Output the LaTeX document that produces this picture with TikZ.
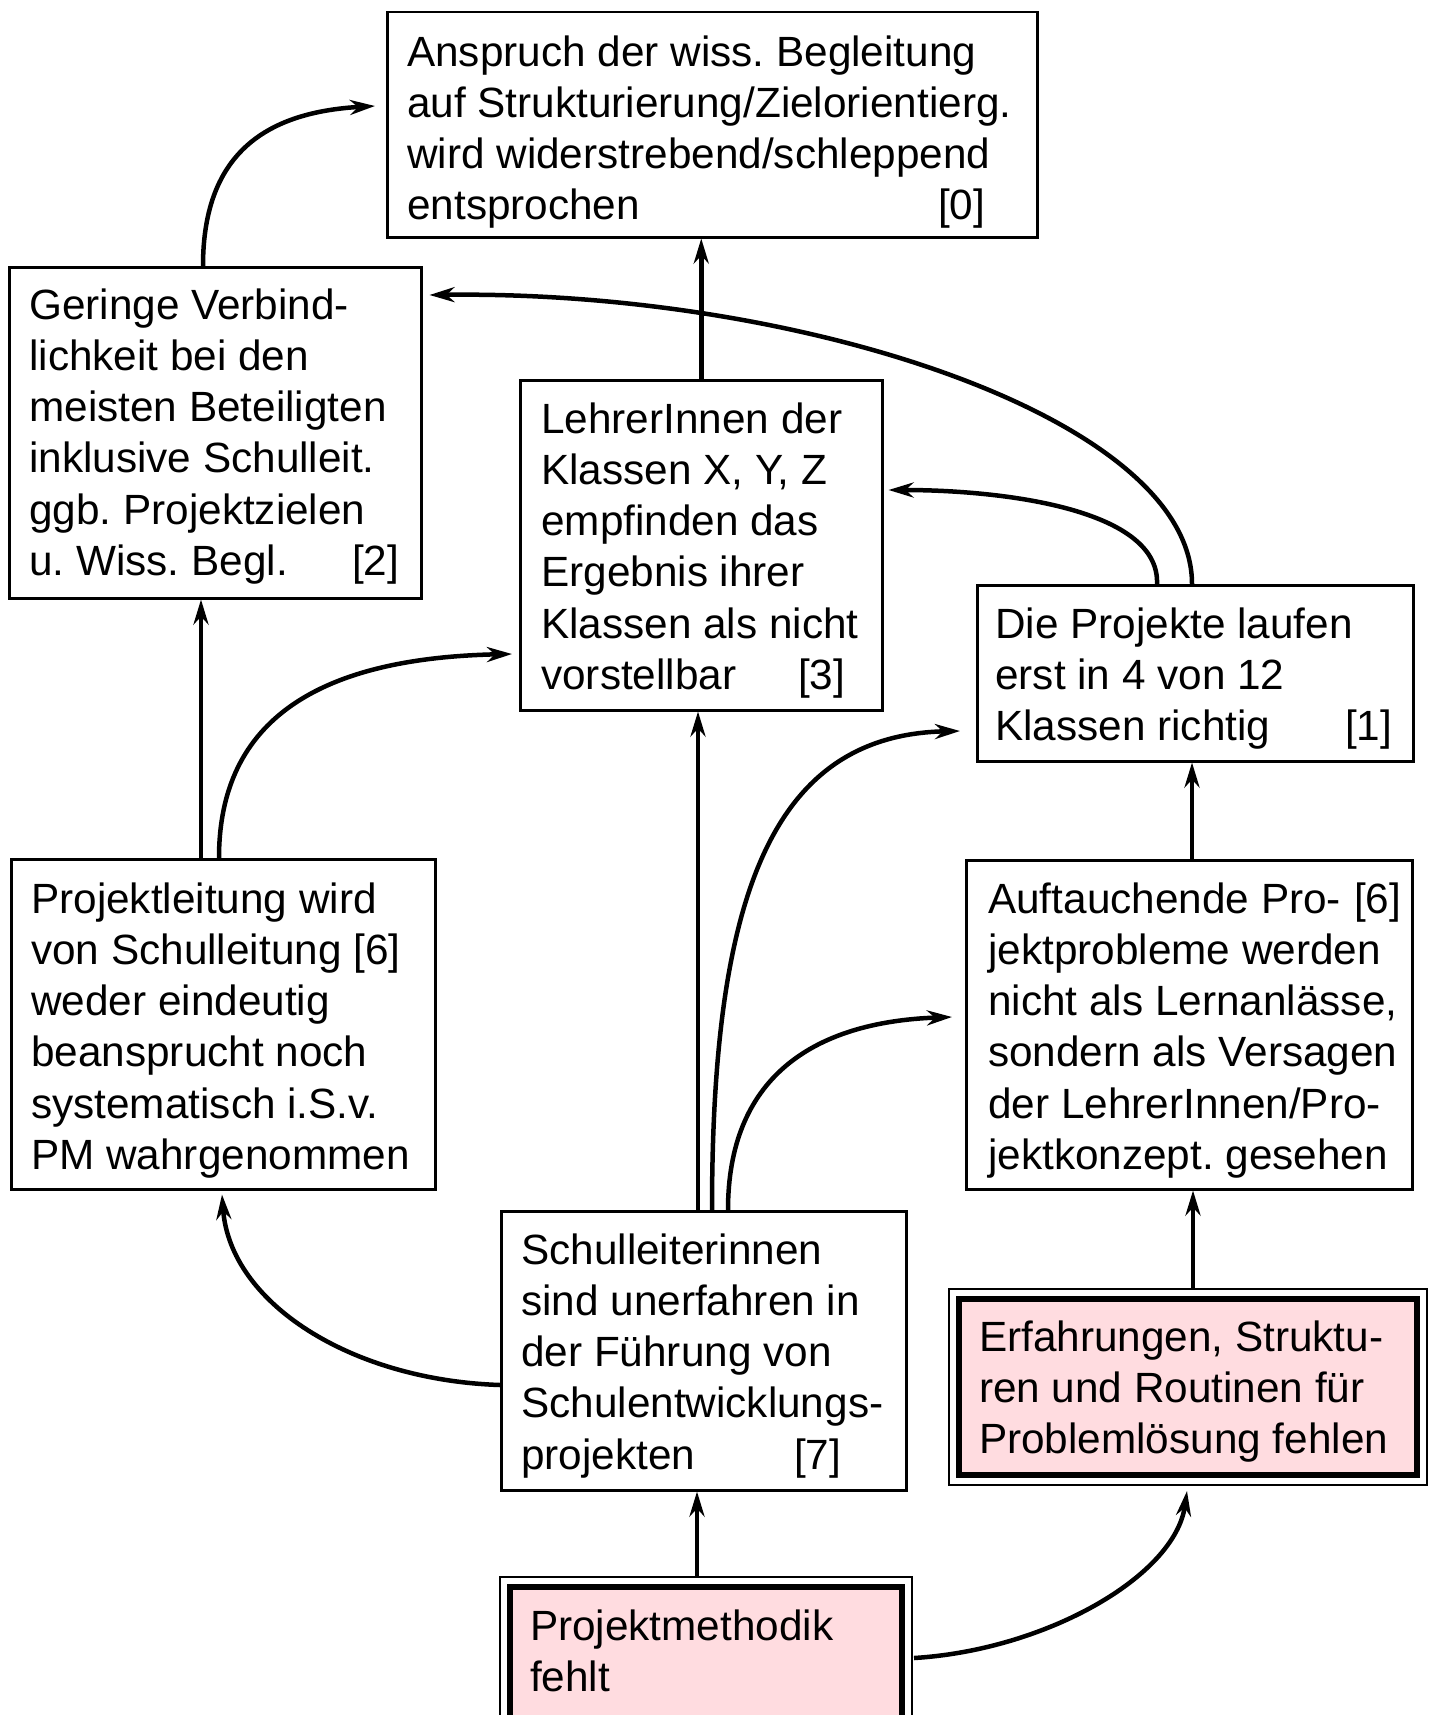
\documentclass[tikz,border=0pt]{standalone}
\usepackage{fontspec}
\setmainfont{Liberation Sans}
\usetikzlibrary{arrows.meta,calc}
\definecolor{boxpink}{RGB}{255,220,224}

% box content: width, height, left padding, first baseline offset, text
\newcommand\cbox[5]{\parbox[c][#2][t]{#1}{\fontsize{42.3pt}{51.2pt}\selectfont
  \frenchspacing\hyphenpenalty=10000 \exhyphenpenalty=10000
  \leftskip=#3\relax\rule{0pt}{#4}\ignorespaces#5}}

\tikzset{
  box/.style={draw, line width=2.5pt, fill=white, inner sep=0pt, anchor=north west},
  keybox/.style={draw, line width=6pt, fill=boxpink, inner sep=0pt, anchor=north west},
  keyframe/.style={draw, line width=2pt},
  arr/.style={line width=4.5pt, -{Stealth[length=25pt,width=15pt,inset=8pt]}}
}

\begin{document}
\begin{tikzpicture}[x=1pt, y=-1pt]
\useasboundingbox (0,0) rectangle (1431,1715);

% ---- boxes ----
\node[box] (b0) at (386,11) {\cbox{650pt}{225pt}{20pt}{54pt}{%
  Anspruch der wiss. Begleitung\\auf Strukturierung/Zielorientierg.\\wird widerstrebend/schleppend\\entsprochen\hfill[0]\hspace*{52pt}}};

\node[box] (b2) at (8,266) {\cbox{412pt}{331pt}{20pt}{52pt}{%
  Geringe Verbind-\\lichkeit bei den\\meisten Beteiligten\\inklusive Schulleit.\\ggb. Projektzielen\\u. Wiss. Begl.\hfill[2]\hspace*{22pt}}};

\node[box] (b3) at (519,379) {\cbox{362pt}{330pt}{21pt}{53pt}{%
  LehrerInnen der\\Klassen X, Y, Z\\empfinden das\\Ergebnis ihrer\\Klassen als nicht\\vorstellbar\hfill[3]\hspace*{37pt}}};

\node[box] (b1) at (976,584) {\cbox{436pt}{176pt}{18pt}{53pt}{%
  Die Projekte laufen\\erst in 4 von 12\\Klassen richtig\hfill[1]\hspace*{21pt}}};

\node[box] (pl) at (10,858) {\cbox{424pt}{330pt}{20pt}{54pt}{%
  Projektleitung wird\\von Schulleitung [6]\\weder eindeutig\\beansprucht noch\\systematisch i.S.v.\\PM wahrgenommen}};

\node[box] (b6) at (965,859) {\cbox{446pt}{329pt}{22pt}{53pt}{%
  Auftauchende Pro-\hfill[6]\hspace*{11pt}\\jektprobleme werden\\nicht als Lernanlässe,\\sondern als Versagen\\der LehrerInnen/Pro-\\jektkonzept. gesehen}};

\node[box] (b7) at (500,1210) {\cbox{405pt}{279pt}{20pt}{53pt}{%
  Schulleiterinnen\\sind unerfahren in\\der Führung von\\Schulentwicklungs-\\projekten\hfill[7]\hspace*{65pt}}};

\node[keybox] (erf) at (956,1296) {\cbox{458pt}{176pt}{20pt}{52pt}{%
  Erfahrungen, Struktu-\\ren und Routinen für\\Problemlösung fehlen}};
\draw[keyframe] ([shift={(-7pt,7pt)}]erf.north west) rectangle ([shift={(7pt,-7pt)}]erf.south east);

\node[keybox] (pm) at (507,1584) {\cbox{392pt}{200pt}{20pt}{53pt}{%
  Projektmethodik\\fehlt}};
\draw[keyframe] ([shift={(-7pt,7pt)}]pm.north west) rectangle ([shift={(7pt,-7pt)}]pm.south east);

% ---- connectors ----
\draw[arr] ($(b2.north west)+(195,0)$) .. controls +(0,-116) and +(-105,6) .. ($(b0.north west)+(-11,95)$);
\draw[arr] ($(b1.north west)+(216,0)$) .. controls +(0,-165) and +(373,-5) .. ($(b2.north east)+(7,29)$);
\draw[arr] ($(b1.north west)+(181,0)$) .. controls +(3,-75) and +(114,0) .. ($(b3.north east)+(5,111)$);
\draw[arr] (b3.north) -- (b3.north |- b0.south);
\draw[arr] ($(pl.north west)+(191,0)$) -- ($(b2.south west)+(193,0)$);
\draw[arr] ($(pl.north west)+(209,0)$) .. controls +(0,-139) and +(-192,4) .. ($(b3.north west)+(-7,275)$);
\draw[arr] ($(b7.north west)+(198,0)$) -- ($(b3.south west)+(179,0)$);
\draw[arr] ($(b7.north west)+(212,0)$) .. controls +(0,-310) and +(-190,4) .. ($(b1.north west)+(-16,147)$);
\draw[arr] ($(b7.north west)+(228,0)$) .. controls +(0,-130) and +(-142,5) .. ($(b6.north west)+(-13,158)$);
\draw[arr] ($(b7.north west)+(0,175)$) .. controls +(-150,-5) and +(8,108) .. ($(pl.south west)+(212,4)$);
\draw[arr] ($(b6.north west)+(227,0)$) -- ($(b1.south west)+(216,0)$);
\draw[arr] ($(erf.north west)+(237,-8)$) -- ($(b6.south west)+(228,0)$);
\draw[arr] ($(pm.north west)+(190,-8)$) -- ($(b7.south west)+(197,0)$);
\draw[arr] ($(pm.north east)+(9,74)$) .. controls +(132,-8) and +(-12,85) .. ($(erf.south west)+(231,13)$);
\end{tikzpicture}
\end{document}
